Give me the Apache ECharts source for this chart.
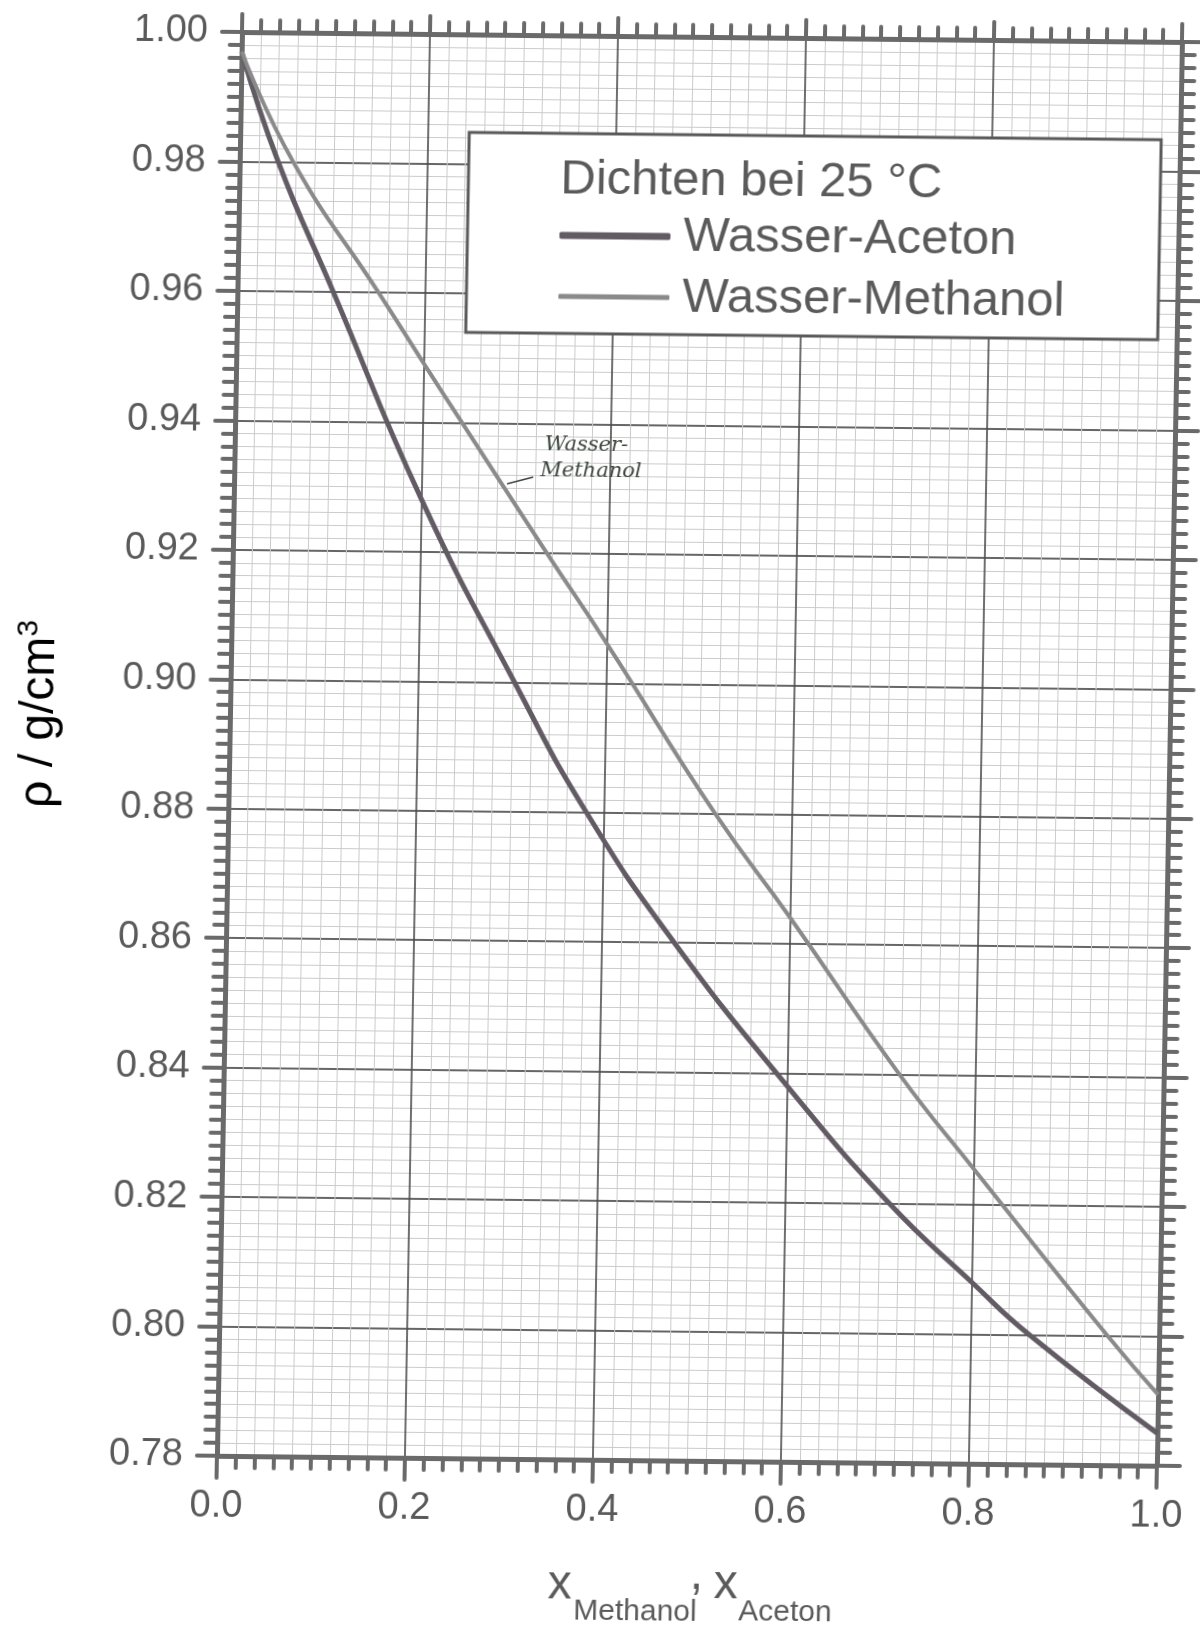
<!DOCTYPE html>
<html>
<head>
<meta charset="utf-8">
<script src="https://cdn.jsdelivr.net/npm/echarts@6/dist/echarts.min.js"></script>
<style>
  html, body { margin: 0; padding: 0; background: #fff; overflow: hidden; }
  /* slight skew like a scanned sheet of graph paper */
  #chart { width: 1260px; height: 1629px; transform-origin: 242px 32px;
           transform: matrix(1, 0.0106, -0.0176, 1, 0, 0); }
</style>
</head>
<body>
<div id="chart"></div>
<script>
// Axis ranges and tick spacing
const xMin = 0.0, xMax = 1.0, xStep = 0.2;
const rhoMin = 0.78, rhoMax = 1.00, rhoStep = 0.02;

// Wasser-Aceton: mole fraction of acetone vs. density (g/cm3) at 25 °C
const acetonX   = [0, 0.041, 0.102, 0.2, 0.302, 0.381, 0.477, 0.6, 0.711, 0.8, 0.862, 1.0];
const acetonRho = [0.997, 0.98, 0.96, 0.928, 0.90, 0.88, 0.86, 0.838, 0.82, 0.808, 0.80, 0.785];

// Wasser-Methanol: mole fraction of methanol vs. density (g/cm3) at 25 °C
const methanolX   = [0, 0.057, 0.15, 0.2, 0.24, 0.334, 0.4, 0.518, 0.6, 0.719, 0.8, 0.945, 1.0];
const methanolRho = [0.997, 0.98, 0.96, 0.949, 0.9403, 0.92, 0.906, 0.88, 0.864, 0.84, 0.8255, 0.80, 0.791];

const seriesNames = ['Wasser-Aceton', 'Wasser-Methanol'];
const legendTitle = 'Dichten bei 25 °C';

const TXT = '#5a5a5a';
const AXIS = '#6a6a6a';
const FONT = '"Liberation Sans", Arial, sans-serif';

const pairs = (xs, ys) => xs.map((x, i) => [x, ys[i]]);

const chart = echarts.init(document.getElementById('chart'), null, { renderer: 'canvas' });

const edgeAxisLine = { show: true, onZero: false, lineStyle: { color: AXIS, width: 5 } };
const tickStyle = { color: AXIS, width: 4, cap: 'round' };

const option = {
  backgroundColor: '#fff',
  animation: false,
  grid: { left: 242, top: 32, width: 940, height: 1424, containLabel: false, outerBoundsMode: 'none' },
  title: {
    text: legendTitle, left: 563, top: 148, padding: 0,
    textStyle: { fontFamily: FONT, fontSize: 49, lineHeight: 56, fontWeight: 'normal', color: TXT }
  },
  legend: [
    {
      data: [seriesNames[0]], left: 563, top: 204, padding: 0, selectedMode: false,
      icon: 'roundRect', itemWidth: 111, itemHeight: 7,
      textStyle: { fontFamily: FONT, fontSize: 49, lineHeight: 56, color: TXT, padding: [0, 0, 0, 8] }
    },
    {
      data: [seriesNames[1]], left: 563, top: 265, padding: 0, selectedMode: false,
      icon: 'roundRect', itemWidth: 111, itemHeight: 5,
      textStyle: { fontFamily: FONT, fontSize: 49, lineHeight: 56, color: TXT, padding: [0, 0, 0, 8] }
    }
  ],
  xAxis: [
    {
      type: 'value', position: 'bottom', min: xMin, max: xMax, interval: xStep,
      axisLine: edgeAxisLine,
      axisTick: { show: true, length: 22, lineStyle: tickStyle },
      minorTick: { show: true, splitNumber: 10, length: 12, lineStyle: tickStyle },
      axisLabel: { margin: 32, fontFamily: FONT, fontSize: 38, color: TXT,
                   formatter: v => v.toFixed(1) },
      splitLine: { show: true, lineStyle: { color: '#4c4c4c', width: 1.6 } },
      minorSplitLine: { show: true, lineStyle: { color: '#cbcbcb', width: 1 } }
    },
    {
      type: 'value', position: 'top', min: xMin, max: xMax, interval: xStep,
      axisLine: edgeAxisLine,
      axisTick: { show: true, length: 18, lineStyle: tickStyle },
      minorTick: { show: true, splitNumber: 10, length: 12, lineStyle: tickStyle },
      axisLabel: { show: false },
      splitLine: { show: false }
    }
  ],
  yAxis: [
    {
      type: 'value', position: 'left', min: rhoMin, max: rhoMax, interval: rhoStep,
      axisLine: edgeAxisLine,
      axisTick: { show: true, length: 20, lineStyle: tickStyle },
      minorTick: { show: true, splitNumber: 10, length: 12, lineStyle: tickStyle },
      axisLabel: { margin: 34, fontFamily: FONT, fontSize: 38, color: TXT,
                   formatter: v => v.toFixed(2) },
      splitLine: { show: true, lineStyle: { color: '#666', width: 1.8 } },
      minorSplitLine: { show: true, lineStyle: { color: '#cbcbcb', width: 1 } }
    },
    {
      type: 'value', position: 'right', min: rhoMin, max: rhoMax, interval: rhoStep,
      axisLine: edgeAxisLine,
      axisTick: { show: true, length: 23, lineStyle: tickStyle },
      minorTick: { show: true, splitNumber: 10, length: 13, lineStyle: tickStyle },
      axisLabel: { show: false },
      splitLine: { show: false }
    }
  ],
  graphic: [
    // legend frame
    { type: 'rect', z: 3, shape: { x: 471, y: 130, width: 692, height: 200 },
      style: { fill: '#fff', stroke: '#5a5a5a', lineWidth: 3 } },
    // y axis title
    { type: 'text', x: 52, y: 716, rotation: Math.PI / 2, z: 5,
      style: { text: '{t|ρ / g/cm}{s|3}', align: 'center', verticalAlign: 'middle',
               rich: { t: { fontFamily: FONT, fontSize: 48, color: TXT, lineHeight: 54 },
                       s: { fontFamily: FONT, fontSize: 30, color: TXT, lineHeight: 30, verticalAlign: 'top' } } } },
    // x axis title with subscripts
    { type: 'text', x: 575, y: 1599 - 17, z: 5,
      style: { text: 'x', fontFamily: FONT, fontSize: 48, fill: TXT, verticalAlign: 'middle' } },
    { type: 'text', x: 601, y: 1618 - 10.5, z: 5,
      style: { text: 'Methanol', fontFamily: FONT, fontSize: 30, fill: TXT, verticalAlign: 'middle' } },
    { type: 'text', x: 717, y: 1588 - 17, z: 5,
      style: { text: ',', fontFamily: FONT, fontSize: 48, fill: TXT, verticalAlign: 'middle' } },
    { type: 'text', x: 741, y: 1597 - 17, z: 5,
      style: { text: 'x', fontFamily: FONT, fontSize: 48, fill: TXT, verticalAlign: 'middle' } },
    { type: 'text', x: 766, y: 1617 - 10.5, z: 5,
      style: { text: 'Aceton', fontFamily: FONT, fontSize: 30, fill: TXT, verticalAlign: 'middle' } },
    // handwritten note on the methanol curve
    { type: 'text', x: 552, y: 442, z: 5,
      style: { text: 'Wasser-', fontFamily: '"DejaVu Serif", serif', fontStyle: 'italic', fontSize: 21,
               fill: '#3d463d', verticalAlign: 'middle' } },
    { type: 'text', x: 548, y: 468, z: 5,
      style: { text: 'Methanol', fontFamily: '"DejaVu Serif", serif', fontStyle: 'italic', fontSize: 21,
               fill: '#3d463d', verticalAlign: 'middle' } },
    { type: 'line', z: 5, shape: { x1: 515, y1: 481, x2: 541, y2: 474 },
      style: { stroke: '#3d463d', lineWidth: 1.5 } }
  ],
  series: [
    {
      name: seriesNames[0], type: 'line', xAxisIndex: 0, yAxisIndex: 0,
      data: pairs(acetonX, acetonRho),
      smooth: 0.5, showSymbol: false, symbol: 'none',
      color: '#625b64', lineStyle: { color: '#625b64', width: 5 }, z: 2
    },
    {
      name: seriesNames[1], type: 'line', xAxisIndex: 0, yAxisIndex: 0,
      data: pairs(methanolX, methanolRho),
      smooth: 0.5, showSymbol: false, symbol: 'none',
      color: '#8a8a8a', lineStyle: { color: '#8a8a8a', width: 4 }, z: 2
    }
  ]
};

chart.setOption(option);
</script>
</body>
</html>
